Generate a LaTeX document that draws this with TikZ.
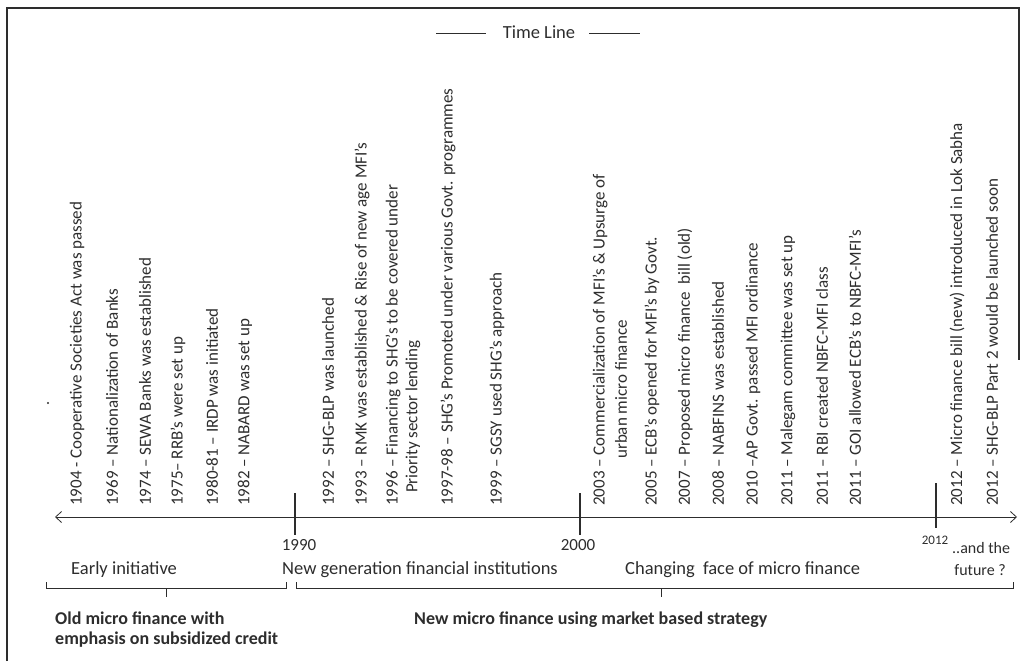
\documentclass[tikz,border=0pt]{standalone}
\usepackage{fontspec}
\setmainfont{Carlito}
\usetikzlibrary{arrows.meta}
\definecolor{ink}{RGB}{45,45,45}
\begin{document}
\begin{tikzpicture}[x=1pt,y=-1pt,
  ev/.style={rotate=90,anchor=west,inner sep=0pt,font=\fontsize{17}{19}\selectfont,text=ink},
  lbl/.style={font=\fontsize{18.5}{20}\selectfont,text=ink,inner sep=0pt},
  yr/.style={font=\fontsize{17}{19}\selectfont,text=ink,inner sep=0pt},
  small/.style={font=\fontsize{13}{15}\selectfont,text=ink,inner sep=0pt},
  fut/.style={font=\fontsize{16}{18}\selectfont,text=ink,inner sep=0pt},
  bl/.style={font=\bfseries\fontsize{18}{20}\selectfont,text=ink,inner sep=0pt,align=left,anchor=north west},
  yeartick/.style={line width=2.4pt,draw=ink},
  thin/.style={draw=ink,line width=0.8pt},
  frame/.style={draw=ink,line width=1.3pt}]
\useasboundingbox (0,0) rectangle (1022,661);
% frame
\coordinate (fbl) at (7,661);
\coordinate (ftl) at (7,8);
\coordinate (ftr) at (1019,8);
\coordinate (fbr) at (1019,360);
\draw[frame] (fbl) -- (ftl) -- (ftr) -- (fbr);
% title
\node[lbl] (title) at (539,32) {Time Line};
\coordinate (dl1) at (436,33); \coordinate (dl2) at (486,33);
\coordinate (dr1) at (589,33); \coordinate (dr2) at (640,33);
\draw[thin] (dl1) -- (dl2);
\draw[thin] (dr1) -- (dr2);
% stray dot
\fill[ink] (48,403) circle (1.2pt);
% axis
\coordinate (axL) at (55,517);
\coordinate (axR) at (1017,517);
\draw[thin,{Straight Barb[length=6pt,width=11pt]}-{Straight Barb[length=6pt,width=11pt]}] (axL) -- (axR);
\coordinate (t90a) at (295,493); \coordinate (t90b) at (295,535);
\coordinate (t00a) at (580,493); \coordinate (t00b) at (580,535);
\coordinate (t12a) at (936,483); \coordinate (t12b) at (936,528);
\draw[yeartick] (t90a) -- (t90b);
\draw[yeartick] (t00a) -- (t00b);
\draw[yeartick] (t12a) -- (t12b);
\node[yr] (y1990) at (299,545) {1990};
\node[yr] (y2000) at (578,545) {2000};
\node[small] (y2012) at (935,540) {2012};
\node[fut,anchor=west] (andthe) at (952,548) {..and the};
\node[fut,anchor=east] (future) at (1006,570) {future ?};
% events
\node[ev] (e1904) at (77,506) {1904 - Cooperative Societies Act was passed};
\node[ev] (e1969) at (112,506) {1969 – Nationalization of Banks};
\node[ev] (e1974) at (145,506) {1974 – SEWA Banks was established};
\node[ev] (e1975) at (178,506) {1975– RRB’s were set up};
\node[ev] (e1980) at (212,506) {1980-81 – IRDP was initiated};
\node[ev] (e1982) at (245,506) {1982 – NABARD was set up};
\node[ev] (e1992) at (328,506) {1992 – SHG-BLP was launched};
\node[ev] (e1993) at (362,506) {1993 – RMK was established \& Rise of new age MFI’s};
\node[ev] (e1996) at (393,506) {1996 – Financing to SHG’s to be covered under};
\node[ev] (e1996b) at (413,493) {Priority sector lending};
\node[ev] (e1997) at (448,506) {1997-98 – SHG’s Promoted under various Govt. programmes};
\node[ev] (e1999) at (497,506) {1999 – SGSY used SHG’s approach};
\node[ev] (e2003) at (600,506) {2003 – Commercialization of MFI’s \& Upsurge of};
\node[ev] (e2003b) at (621,459) {urban micro finance};
\node[ev] (e2005) at (652,506) {2005 – ECB’s opened for MFI’s by Govt.};
\node[ev] (e2007) at (685,506) {2007 – Proposed micro finance\ \ bill (old)};
\node[ev] (e2008) at (718,506) {2008 – NABFINS was established};
\node[ev] (e2010) at (753,506) {2010 –AP Govt. passed MFI ordinance};
\node[ev] (e2011a) at (788,506) {2011 – Malegam committee was set up};
\node[ev] (e2011b) at (822,506) {2011 – RBI created NBFC-MFI class};
\node[ev] (e2011c) at (855,506) {2011 – GOI allowed ECB’s to NBFC-MFI’s};
\node[ev] (e2012a) at (957,506) {2012 – Micro finance bill (new) introduced in Lok Sabha};
\node[ev] (e2012b) at (992,506) {2012 – SHG-BLP Part 2 would be launched soon};
% phase labels
\node[lbl,anchor=west] (early) at (71,570) {Early initiative};
\node[lbl,anchor=west] (newgen) at (282,570) {New generation financial institutions};
\node[lbl,anchor=west] (changing) at (625,570) {Changing\ \ face of micro finance};
% brackets
\coordinate (b1a) at (46,582); \coordinate (b1b) at (46,588);
\coordinate (b1c) at (286,588); \coordinate (b1d) at (286,582);
\coordinate (b1m) at (166,588); \coordinate (b1n) at (166,597);
\draw[thin] (b1a) -- (b1b) -- (b1c) -- (b1d);
\draw[thin] (b1m) -- (b1n);
\coordinate (b2a) at (296,582); \coordinate (b2b) at (296,588);
\coordinate (b2c) at (1013,588); \coordinate (b2d) at (1013,582);
\coordinate (b2m) at (661,588); \coordinate (b2n) at (661,597);
\draw[thin] (b2a) -- (b2b) -- (b2c) -- (b2d);
\draw[thin] (b2m) -- (b2n);
% bottom labels
\node[bl] (oldmf) at (55,612) {Old micro finance with\\emphasis on subsidized credit};
\node[bl] (newmf) at (414,612) {New micro finance using market based strategy};
\end{tikzpicture}
\end{document}
